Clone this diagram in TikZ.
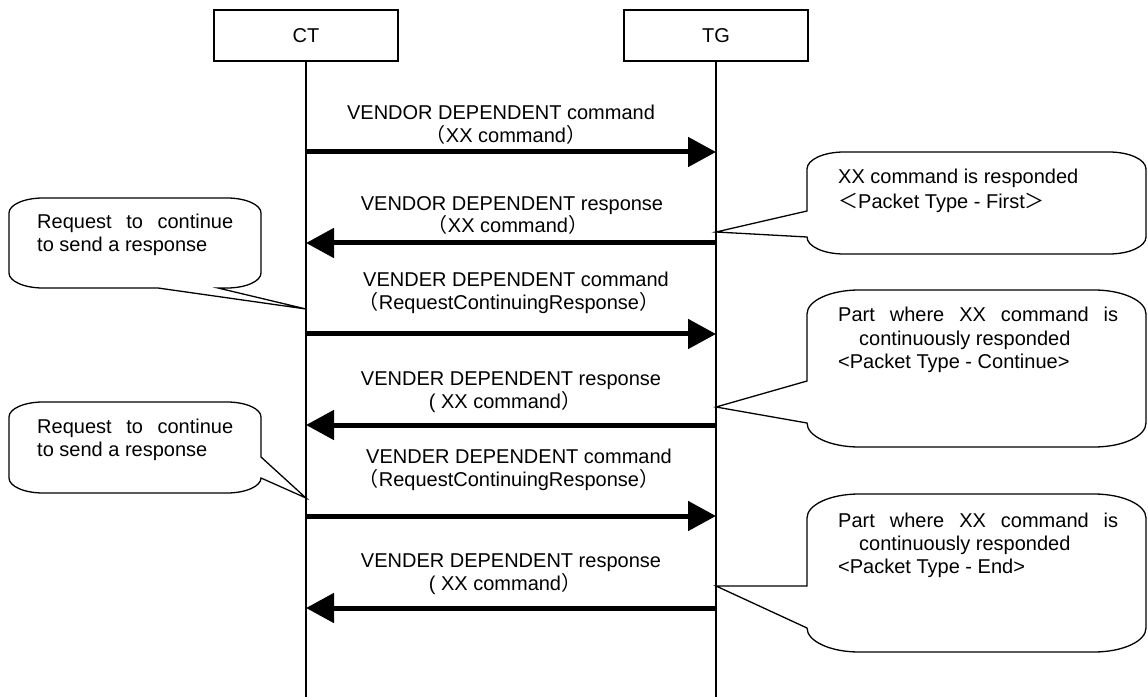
\documentclass[tikz,border=0pt]{standalone}
\usepackage{fontspec}
\setmainfont{Liberation Sans}
\newfontfamily\cjk{Noto Sans CJK JP}
\usetikzlibrary{arrows.meta}
\newcommand\FWlp{{\cjk （}}
\newcommand\FWrp{{\cjk ）}}
\newcommand\FWlt{{\cjk ＜}}
\newcommand\FWgt{{\cjk ＞}}
\begin{document}
\begin{tikzpicture}[x=1pt,y=1pt,
  font=\fontsize{20}{23}\selectfont,
  actor/.style={draw, line width=1.3pt, minimum width=184pt, minimum height=51pt, inner sep=0},
  life/.style={line width=1.3pt},
  msg/.style={line width=5pt, -{Triangle[length=28pt,width=29pt]}},
  bubble/.style={draw, line width=1.3pt, line join=miter},
  lbl/.style={inner sep=0, anchor=base},
  btxt/.style={inner sep=0, anchor=base west}]
\useasboundingbox (0,0) rectangle (1148,697);
% actors and lifelines
\node[actor] (CT) at (306,661.5) {CT};
\node[actor] (TG) at (716,661.5) {TG};
\coordinate (CTend) at (306,0);
\coordinate (TGend) at (716,0);
\draw[life] (CT.south) -- (CTend);
\draw[life] (TG.south) -- (TGend);
% message end points
\foreach \i/\y in {1/545,2/454,3/363,4/272,5/181,6/89} {
  \coordinate (c\i) at (306,\y);
  \coordinate (t\i) at (716,\y);
}
\draw[msg] (c1) -- (t1);
\draw[msg] (t2) -- (c2);
\draw[msg] (c3) -- (t3);
\draw[msg] (t4) -- (c4);
\draw[msg] (c5) -- (t5);
\draw[msg] (t6) -- (c6);
% message labels
\node[lbl] (m1a) at (501,577) {VENDOR DEPENDENT command};
\node[lbl] (m1b) at (506,554) {\FWlp XX command\FWrp};
\node[lbl] (m2a) at (512,486) {VENDOR DEPENDENT response};
\node[lbl] (m2b) at (508,464) {\FWlp XX command\FWrp};
\node[lbl] (m3a) at (516,410) {VENDER DEPENDENT command};
\node[lbl] (m3b) at (509,387) {\FWlp RequestContinuingResponse\FWrp};
\node[lbl] (m4a) at (511,312) {VENDER DEPENDENT response};
\node[lbl] (m4b) at (505,289) {( XX command\FWrp};
\node[lbl] (m5a) at (519,234) {VENDER DEPENDENT command};
\node[lbl] (m5b) at (509,211) {\FWlp RequestContinuingResponse\FWrp};
\node[lbl] (m6a) at (511,130) {VENDER DEPENDENT response};
\node[lbl] (m6b) at (505,107) {( XX command\FWrp};
% left callout 1
\draw[bubble] (227,499) -- (43,499) arc[start angle=90,end angle=180,x radius=34,y radius=15]
  -- (9,424) arc[start angle=180,end angle=270,x radius=34,y radius=15]
  -- (158,409) -- (306,388) -- (218,409) -- (227,409)
  arc[start angle=270,end angle=360,x radius=34,y radius=15]
  -- (261,484) arc[start angle=0,end angle=90,x radius=34,y radius=15] -- cycle;
\node[btxt] (l1a) at (37,468) {\makebox[196pt][s]{Request to continue}};
\node[btxt] (l1b) at (37,445) {to send a response};
% left callout 2
\draw[bubble] (227,295) -- (43,295) arc[start angle=90,end angle=180,x radius=34,y radius=15]
  -- (9,219) arc[start angle=180,end angle=270,x radius=34,y radius=15]
  -- (227,204) arc[start angle=270,end angle=360,x radius=34,y radius=15]
  -- (306,199) -- (261,240)
  -- (261,280) arc[start angle=0,end angle=90,x radius=34,y radius=15] -- cycle;
\node[btxt] (l2a) at (37,264) {\makebox[196pt][s]{Request to continue}};
\node[btxt] (l2b) at (37,241) {to send a response};
% right callout 1
\draw[bubble] (1109,545) -- (844,545) arc[start angle=90,end angle=180,x radius=37,y radius=17]
  -- (807,486) -- (716,465) -- (807,460)
  arc[start angle=180,end angle=270,x radius=37,y radius=17]
  -- (1109,443) arc[start angle=270,end angle=360,x radius=37,y radius=17]
  -- (1146,528) arc[start angle=0,end angle=90,x radius=37,y radius=17] -- cycle;
\node[btxt] (r1a) at (838,513) {XX command is responded};
\node[btxt] (r1b) at (838,488) {\FWlt Packet Type - First\FWgt};
% right callout 2
\draw[bubble] (1094,407) -- (859,407) arc[start angle=90,end angle=180,x radius=52,y radius=24]
  -- (807,316) -- (716,290) -- (807,274)
  arc[start angle=180,end angle=270,x radius=52,y radius=24]
  -- (1094,250) arc[start angle=270,end angle=360,x radius=52,y radius=24]
  -- (1146,383) arc[start angle=0,end angle=90,x radius=52,y radius=24] -- cycle;
\node[btxt] (r2a) at (838,375) {\makebox[280pt][s]{Part where XX command is}};
\node[btxt] (r2b) at (859,352) {continuously responded};
\node[btxt] (r2c) at (838,329) {<Packet Type - Continue>};
% right callout 3
\draw[bubble] (1094,203) -- (859,203) arc[start angle=90,end angle=180,x radius=52,y radius=24]
  -- (807,111) -- (716,111) -- (807,69)
  arc[start angle=180,end angle=270,x radius=52,y radius=24]
  -- (1094,45) arc[start angle=270,end angle=360,x radius=52,y radius=24]
  -- (1146,179) arc[start angle=0,end angle=90,x radius=52,y radius=24] -- cycle;
\node[btxt] (r3a) at (838,170) {\makebox[280pt][s]{Part where XX command is}};
\node[btxt] (r3b) at (859,147) {continuously responded};
\node[btxt] (r3c) at (838,124) {<Packet Type - End>};
\end{tikzpicture}
\end{document}
